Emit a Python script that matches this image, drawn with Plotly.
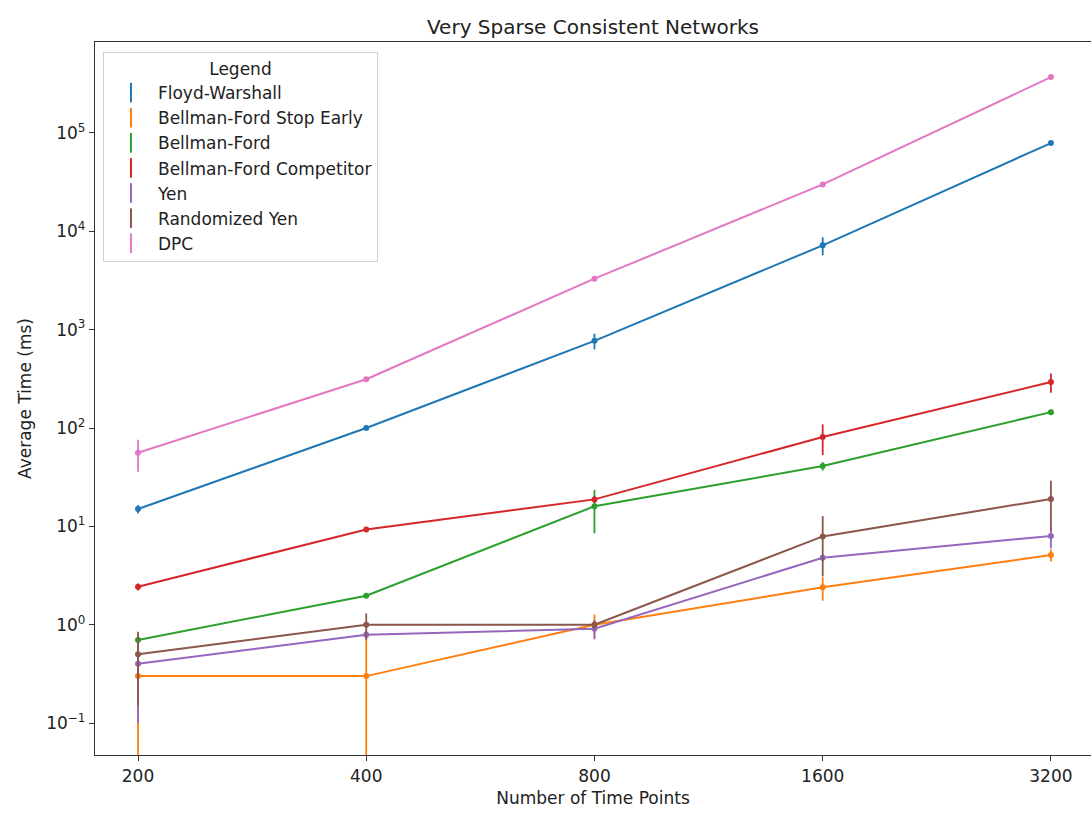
import plotly.graph_objects as go

# Problem sizes (number of time points)
time_points = [200, 400, 800, 1600, 3200]
tick_labels = ["200", "400", "800", "1600", "3200"]

# Log-scale y ticks
y_tick_vals = [0.1, 1, 10, 100, 1000, 10000, 100000]
y_tick_text = ["10<sup>\u22121</sup>", "10<sup>0</sup>", "10<sup>1</sup>", "10<sup>2</sup>",
               "10<sup>3</sup>", "10<sup>4</sup>", "10<sup>5</sup>"]

# Average runtime (ms) and standard deviation per algorithm
floyd_warshall = [15, 100, 770, 7200, 79000]
floyd_warshall_err = [1.5, 5, 140, 1500, 1500]

bf_stop_early = [0.3, 0.3, 1.0, 2.4, 5.1]
bf_stop_early_err = [0.4, 0.4, 0.27, 0.65, 0.7]

bellman_ford = [0.7, 1.97, 16, 41, 145]
bellman_ford_err = [0.1, 0.1, 7.5, 4, 8]

bf_competitor = [2.43, 9.3, 18.8, 81, 293]
bf_competitor_err = [0.2, 0.5, 1.5, 28, 65]

yen = [0.4, 0.79, 0.91, 4.8, 8.0]
yen_err = [0.3, 0.08, 0.2, 0.4, 2.0]

randomized_yen = [0.5, 1.0, 1.0, 7.9, 19]
randomized_yen_err = [0.35, 0.3, 0.1, 4.8, 10]

dpc = [56, 313, 3300, 30000, 370000]
dpc_err = [20, 15, 150, 1500, 12000]

series = [
    ("Floyd-Warshall", floyd_warshall, floyd_warshall_err, "#1f77b4"),
    ("Bellman-Ford Stop Early", bf_stop_early, bf_stop_early_err, "#ff7f0e"),
    ("Bellman-Ford", bellman_ford, bellman_ford_err, "#2ca02c"),
    ("Bellman-Ford Competitor", bf_competitor, bf_competitor_err, "#d62728"),
    ("Yen", yen, yen_err, "#9467bd"),
    ("Randomized Yen", randomized_yen, randomized_yen_err, "#8c564b"),
    ("DPC", dpc, dpc_err, "#e377c2"),
]

FONT = "DejaVu Sans"

fig = go.Figure()
for name, vals, errs, color in series:
    fig.add_trace(go.Scatter(
        x=time_points, y=vals, name=name, legendgroup=name, showlegend=False,
        mode="lines+markers",
        line=dict(color=color, width=2),
        marker=dict(color=color, size=6),
        error_y=dict(type="data", array=errs, visible=True,
                     color=color, thickness=1.8, width=0),
    ))
    # legend entry styled like an errorbar glyph
    fig.add_trace(go.Scatter(
        x=[None], y=[None], name=name, legendgroup=name, showlegend=True,
        mode="markers",
        marker=dict(symbol="line-ns", size=14, color=color,
                    line=dict(color=color, width=2)),
    ))

fig.update_layout(
    width=1091, height=814,
    margin=dict(l=95, r=0, t=42, b=59),
    paper_bgcolor="white", plot_bgcolor="white",
    font=dict(family=FONT, size=17, color="#222"),
    title=dict(text="Very Sparse Consistent Networks", x=0.5, xanchor="center",
               xref="paper",
               y=1 - 27 / 814, yanchor="middle", yref="container",
               font=dict(size=20, family=FONT, color="#222")),
    legend=dict(
        title=dict(text="Legend", side="top center", font=dict(size=17)),
        x=0.008, y=0.986, xanchor="left", yanchor="top",
        bgcolor="rgba(255,255,255,0.85)", bordercolor="#d0d0d0", borderwidth=1,
        font=dict(size=17, family=FONT), tracegroupgap=0,
        itemwidth=44,
    ),
    showlegend=True,
)

fig.update_xaxes(
    type="log", range=[2.2443, 3.558],
    tickmode="array", tickvals=time_points, ticktext=tick_labels,
    showgrid=False, zeroline=False,
    showline=True, linecolor="#333", linewidth=1.3, mirror=True,
    ticks="outside", ticklen=5, tickcolor="#333",
    title=dict(text="Number of Time Points", font=dict(size=17), standoff=7),
)
fig.update_yaxes(
    type="log", range=[-1.325, 5.925],
    tickmode="array", tickvals=y_tick_vals, ticktext=y_tick_text,
    showgrid=False, zeroline=False,
    showline=True, linecolor="#333", linewidth=1.3, mirror=False,
    ticks="outside", ticklen=5, tickcolor="#333",
    title=dict(text="Average Time (ms)", font=dict(size=17), standoff=10),
)

fig.write_html("out.html")
